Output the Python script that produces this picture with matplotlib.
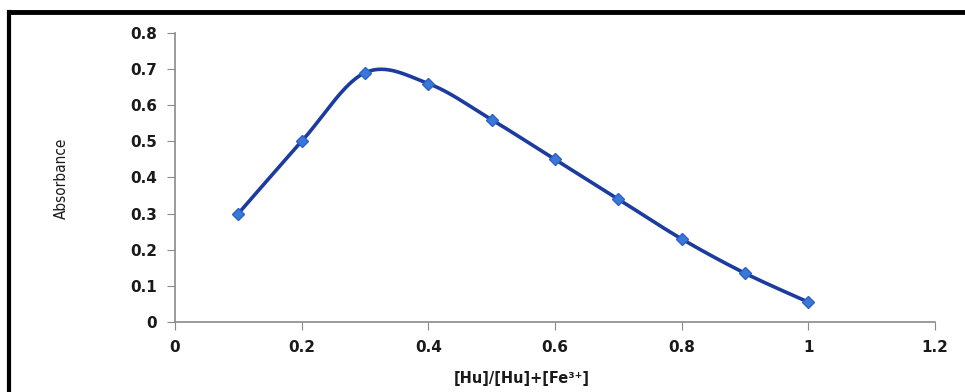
import numpy as np
import matplotlib
matplotlib.use("Agg")
import matplotlib.pyplot as plt
from matplotlib.lines import Line2D

ratio = [0.1, 0.2, 0.3, 0.4, 0.5, 0.6, 0.7, 0.8, 0.9, 1.0]
absorbance = [0.30, 0.50, 0.69, 0.66, 0.56, 0.45, 0.34, 0.23, 0.135, 0.055]
x_ticks = [0, 0.2, 0.4, 0.6, 0.8, 1, 1.2]
x_labels = ["0", "0.2", "0.4", "0.6", "0.8", "1", "1.2"]
y_ticks = [0, 0.1, 0.2, 0.3, 0.4, 0.5, 0.6, 0.7, 0.8]
y_labels = ["0", "0.1", "0.2", "0.3", "0.4", "0.5", "0.6", "0.7", "0.8"]


def smooth(xs, ys, n=40):
    # Catmull-Rom style smoothing like a spreadsheet "smoothed line"
    p = np.column_stack([xs, ys])
    p = np.vstack([p[0], p, p[-1]])
    out = []
    for i in range(1, len(p) - 2):
        p0, p1, p2, p3 = p[i - 1], p[i], p[i + 1], p[i + 2]
        c1 = p1 + (p2 - p0) / 6
        c2 = p2 - (p3 - p1) / 6
        t = np.linspace(0, 1, n)[:, None]
        seg = ((1 - t) ** 3) * p1 + 3 * ((1 - t) ** 2) * t * c1 + 3 * (1 - t) * t ** 2 * c2 + t ** 3 * p2
        out.append(seg)
    s = np.vstack(out)
    return s[:, 0], s[:, 1]


fig = plt.figure(figsize=(9.65, 3.92), dpi=100)
ax = fig.add_axes([0.1813, 0.1786, 0.7876, 0.7372])

sx, sy = smooth(np.array(ratio), np.array(absorbance))
ax.plot(sx, sy, color="#1b3c9e", linewidth=2.6, zorder=2)
ax.plot(ratio, absorbance, linestyle="none", marker="D", markersize=6.5,
        color="#3a78d8", markeredgecolor="#2c62c8", zorder=3)

ax.set_xlim(0, 1.2)
ax.set_ylim(0, 0.8)
ax.set_xticks(x_ticks)
ax.set_xticklabels(x_labels)
ax.set_yticks(y_ticks)
ax.set_yticklabels(y_labels)
for s in ["top", "right"]:
    ax.spines[s].set_visible(False)
for s in ["left", "bottom"]:
    ax.spines[s].set_color("#8a8a8a")
    ax.spines[s].set_linewidth(1.2)
ax.tick_params(axis="both", direction="out", length=6, color="#8a8a8a",
               labelsize=11, pad=7)
for lab in ax.get_xticklabels() + ax.get_yticklabels():
    lab.set_fontweight("bold")
    lab.set_color("#1a1a1a")

fig.text(522 / 965, 1 - 378 / 392, "[Hu]/[Hu]+[Fe³⁺]", ha="center", va="center",
         fontsize=10.5, fontweight="bold", color="#1a1a1a")
fig.text(61 / 965, 1 - 178 / 392, "Absorbance", rotation=90, ha="center", va="center",
         fontsize=11, fontstretch="condensed", family="DejaVu Sans",
         color="#1a1a1a")

# frame lines on the left and top of the picture
fig.add_artist(Line2D([8.5 / 965, 8.5 / 965], [0, 1 - 12 / 392], transform=fig.transFigure,
                      color="black", linewidth=3))
fig.add_artist(Line2D([7 / 965, 1], [1 - 12 / 392, 1 - 12 / 392], transform=fig.transFigure,
                      color="black", linewidth=3.5, solid_capstyle="butt"))

fig.savefig("out.png", dpi=100)
